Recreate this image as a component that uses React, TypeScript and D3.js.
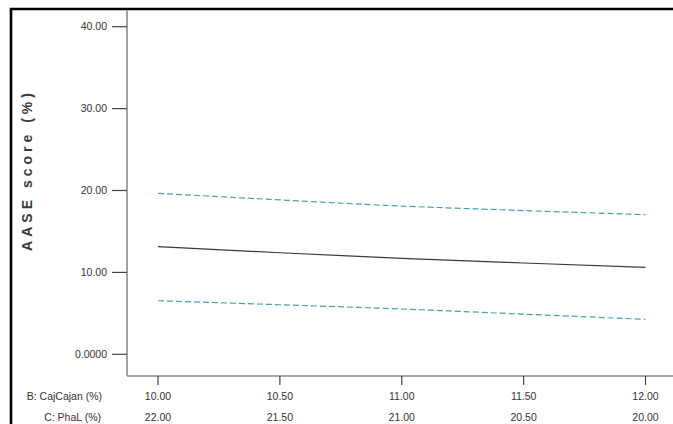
import React from "react";
import * as d3 from "d3";

const bValues = [10.0, 10.5, 11.0, 11.5, 12.0];
const cValues = [22.0, 21.5, 21.0, 20.5, 20.0];
const predicted = [13.14, 12.4, 11.72, 11.15, 10.62];
const upperCI = [19.66, 18.85, 18.1, 17.55, 17.05];
const lowerCI = [6.54, 6.05, 5.53, 4.9, 4.27];
const yTicks = [0, 10, 20, 30, 40];

const W = 673;
const H = 424;

export default function App() {
  const axisX = 127;
  const axisY = 376;
  const x = d3.scaleLinear().domain([10, 12]).range([158, 645.5]);
  const y = d3.scaleLinear().domain([0, 40]).range([354.3, 26.7]);
  const line = d3
    .line<number>()
    .x((_, i) => x(bValues[i]))
    .y((d) => y(d))
    .curve(d3.curveMonotoneX);
  const fmtY = (v: number) => (v === 0 ? "0.0000" : v.toFixed(2));
  const font = "'Liberation Sans', Arial, sans-serif";
  const fs = 10.5;
  return (
    <div style={{ position: "absolute", left: 0, top: 0, width: W, height: H, overflow: "hidden" }}>
      <svg width={W} height={H} style={{ display: "block", background: "#fff" }} fontFamily={font}>
        <rect x={0} y={0} width={W} height={H} fill="#fff" />
        <path d={`M11,${H + 5} L11,9 L${W + 5},9`} fill="none" stroke="#000" strokeWidth={2.6} />
        {/* axes */}
        <line x1={axisX} y1={10} x2={axisX} y2={axisY} stroke="#8a8a8a" strokeWidth={1.6} />
        <line x1={axisX} y1={axisY} x2={W} y2={axisY} stroke="#8a8a8a" strokeWidth={1.6} />
        {yTicks.map((t) => (
          <g key={t}>
            <line x1={112} x2={axisX} y1={y(t)} y2={y(t)} stroke="#444" strokeWidth={1.2} />
            <text x={107} y={y(t)} dy="0.35em" textAnchor="end" fontSize={fs} fill="#333">
              {fmtY(t)}
            </text>
          </g>
        ))}
        {bValues.map((b, i) => (
          <g key={b}>
            <line x1={x(b)} x2={x(b)} y1={axisY} y2={385} stroke="#444" strokeWidth={1.2} />
            <text x={x(b)} y={396} dy="0.35em" textAnchor="middle" fontSize={fs} fill="#333">
              {b.toFixed(2)}
            </text>
            <text x={x(b)} y={417} dy="0.35em" textAnchor="middle" fontSize={fs} fill="#333">
              {cValues[i].toFixed(2)}
            </text>
          </g>
        ))}
        <text x={102} y={396} dy="0.35em" textAnchor="end" fontSize={fs} fill="#333">
          B: CajCajan (%)
        </text>
        <text x={101} y={417} dy="0.35em" textAnchor="end" fontSize={fs} fill="#333">
          C: <tspan fill="#5a2838">PhaL</tspan> (%)
        </text>
        <text
          transform={`translate(32,170) rotate(-90)`}
          textAnchor="middle"
          fontSize={14}
          fontWeight="bold"
          fill="#3a3a3a"
          letterSpacing={4}
        >
          AASE score (%)
        </text>
        <path d={line(upperCI) || ""} fill="none" stroke="#4aa3a3" strokeWidth={1.2} strokeDasharray="6,3" />
        <path d={line(lowerCI) || ""} fill="none" stroke="#4aa3a3" strokeWidth={1.2} strokeDasharray="6,3" />
        <path d={line(predicted) || ""} fill="none" stroke="#3a3a3a" strokeWidth={1.2} />
      </svg>
    </div>
  );
}
